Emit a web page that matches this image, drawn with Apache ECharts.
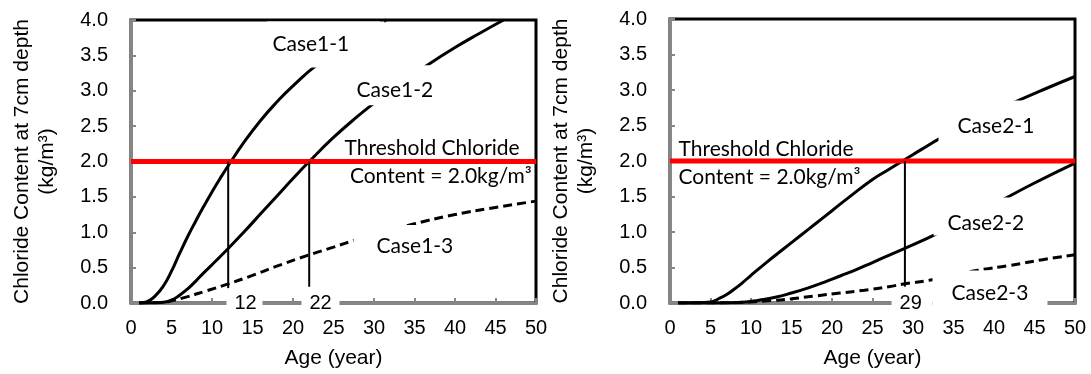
<!DOCTYPE html>
<html>
<head>
<meta charset="utf-8">
<script src="https://cdn.jsdelivr.net/npm/echarts@6/dist/echarts.min.js"></script>
<style>
html,body{margin:0;padding:0;background:#fff;}
#main{width:1091px;height:374px;}
</style>
</head>
<body>
<div id="main"></div>
<script>
// [age (year), chloride content at 7cm depth (kg/m3)]
var case11 = [[1,0],[2,0.02],[3,0.1],[4,0.24],[5,0.45],[6,0.7],[7,0.94],[8,1.16],[9,1.37],[10,1.57],[11,1.76],[12,1.94],[14,2.28],[16,2.58],[18,2.84],[20,3.07],[23,3.37],[27,3.68],[31,3.97],[31.5,4.0]];
var case12 = [[1,0],[3,0.003],[4,0.01],[5,0.04],[6,0.11],[7,0.2],[8,0.31],[9,0.43],[10,0.54],[12,0.77],[14,1.01],[16,1.26],[18,1.51],[20,1.76],[22,2.0],[25,2.34],[28,2.64],[30.3,2.85],[33,3.08],[36.3,3.34],[40,3.61],[43,3.81],[46,4.0]];
var case13 = [[1,0],[3,0.005],[4,0.01],[5,0.03],[7,0.09],[9,0.16],[12,0.27],[15,0.39],[18,0.52],[22,0.68],[25,0.79],[28,0.9],[31,1.0],[35,1.12],[40,1.25],[45,1.35],[50,1.44]];
var case21 = [[1,0],[3,0.003],[5,0.015],[6,0.06],[7,0.12],[8,0.2],[9,0.29],[10,0.39],[12,0.58],[14,0.76],[16,0.94],[18,1.12],[20,1.3],[22,1.48],[25,1.74],[27,1.88],[29,2.02],[31,2.16],[33.5,2.33],[36,2.47],[39,2.64],[42,2.8],[46,3.0],[50,3.19]];
var case22 = [[1,0],[6,0],[9,0.01],[11,0.04],[13,0.08],[15,0.14],[17,0.21],[19,0.29],[21,0.38],[23,0.47],[25,0.57],[27,0.67],[29,0.77],[31,0.87],[33,0.98],[37,1.21],[41,1.45],[45,1.69],[50,1.97]];
var case23 = [[1,0],[5,0],[8,0.005],[10,0.015],[12,0.03],[15,0.06],[18,0.1],[21,0.14],[24,0.18],[27,0.23],[29,0.27],[32,0.32],[35,0.39],[38,0.46],[42,0.53],[46,0.61],[50,0.68]];
var threshold = [[0,2.0],[50,2.0]];
// age when threshold is reached
var reach1 = [[12,2.0],[12,0.21]];
var reach2 = [[22,2.0],[22,0.23]];
var reach3 = [[29,2.0],[29,0.23]];

var myChart = echarts.init(document.getElementById('main'));

var axisFont = '"Liberation Sans", Arial, sans-serif';
var noteFont = 'Lato, sans-serif';
var gray = '#868686';

function xAxis(idx) {
    return {
        type: 'value', gridIndex: idx, min: 0, max: 50, interval: 5,
        name: 'Age (year)', nameLocation: 'middle', nameGap: 45,
        nameTextStyle: {fontFamily: axisFont, fontSize: 21, color: '#000'},
        axisLine: {lineStyle: {color: gray, width: 3}},
        axisTick: {inside: true, length: 5, lineStyle: {color: gray, width: 2}},
        axisLabel: {fontFamily: axisFont, fontSize: 20, color: '#000', margin: 15},
        splitLine: {show: false}
    };
}
function yAxis(idx) {
    return {
        type: 'value', gridIndex: idx, min: 0, max: 4, interval: 0.5,
        name: 'Chloride Content at 7cm depth\n(kg/m³)', nameLocation: 'middle', nameRotate: 90, nameGap: 71,
        nameTextStyle: {fontFamily: axisFont, fontSize: 21, color: '#000', lineHeight: 25},
        axisLine: {lineStyle: {color: gray, width: 3}},
        axisTick: {inside: true, length: 5, lineStyle: {color: gray, width: 2}},
        axisLabel: {fontFamily: axisFont, fontSize: 20, color: '#000', margin: 23,
            formatter: function (v) { return v.toFixed(1); }},
        splitLine: {show: false}
    };
}
function curve(idx, data, dashed) {
    return {
        type: 'line', xAxisIndex: idx, yAxisIndex: idx, data: data, smooth: 0.5,
        symbol: 'none', z: 2,
        lineStyle: {color: '#000', width: 3, type: dashed ? [9, 5] : 'solid'}
    };
}
function straight(idx, data, color, width, z) {
    return {
        type: 'line', xAxisIndex: idx, yAxisIndex: idx, data: data, symbol: 'none', z: z,
        lineStyle: {color: color, width: width}
    };
}
// note: [x, y] of the top-left corner of the label box, padding [t, r, b, l], text width
function note(x, y, text, pad, w, font, size, bg) {
    return {
        value: [x, y],
        label: {
            show: true, position: [0, 0], align: 'left', verticalAlign: 'top', opacity: 1,
            formatter: text, fontFamily: font, fontSize: size, color: '#000',
            lineHeight: bg ? size : 28,
            width: w, padding: pad, backgroundColor: bg ? '#fff' : 'transparent'
        }
    };
}
function notes(idx, data) {
    return {
        type: 'scatter', xAxisIndex: idx, yAxisIndex: idx, symbolSize: 1, z: 10, silent: true,
        itemStyle: {color: '#fff', opacity: 1}, data: data
    };
}

option = {
    backgroundColor: '#fff',
    animation: false,
    grid: [
        {left: 131, right: 555, top: 20, bottom: 69, show: true, borderColor: '#000', borderWidth: 3},
        {left: 670, right: 16, top: 19, bottom: 71, show: true, borderColor: '#000', borderWidth: 3}
    ],
    xAxis: [xAxis(0), xAxis(1)],
    yAxis: [yAxis(0), yAxis(1)],
    series: [
        curve(0, case11), curve(0, case12), curve(0, case13, true),
        straight(0, threshold, '#ff0000', 5, 3),
        straight(0, reach1, '#000', 2, 4), straight(0, reach2, '#000', 2, 4),
        curve(1, case21), curve(1, case22), curve(1, case23, true),
        straight(1, threshold, '#ff0000', 5, 3),
        straight(1, reach3, '#000', 2, 4),
        notes(0, [
            note(16.91, 3.972, 'Case1-1', [12, 0, 13, 5], 112, noteFont, 21, true),
            note(27.28, 3.354, 'Case1-2', [15, 0, 4, 5], 80, noteFont, 21, true),
            note(27.53, 1.095, 'Case1-3', [11, 0, 13, 23], 78, noteFont, 21, true),
            note(11.85, 0.168, '12', [3, 0, 3, 8], 28, axisFont, 20, true),
            note(21.11, 0.168, '22', [3, 0, 3, 8], 30, axisFont, 20, true),
            note(26.42, 2.38, 'Threshold Chloride\n Content = 2.0kg/m³', [0, 0, 0, 0], 200, noteFont, 21, false)
        ]),
        notes(1, [
            note(33.21, 2.845, 'Case2-1', [15, 0, 5, 19], 79, noteFont, 21, true),
            note(32.59, 1.479, 'Case2-2', [15, 0, 2, 14], 80, noteFont, 21, true),
            note(32.47, 0.451, 'Case2-3', [12, 0, 2, 19], 96, noteFont, 21, true),
            note(27.41, 0.183, '29', [4, 0, 5, 8], 33, axisFont, 20, true),
            note(1.11, 2.35, 'Threshold Chloride\nContent = 2.0kg/m³', [0, 0, 0, 0], 200, noteFont, 21, false)
        ])
    ]
};
myChart.setOption(option);
</script>
</body>
</html>
